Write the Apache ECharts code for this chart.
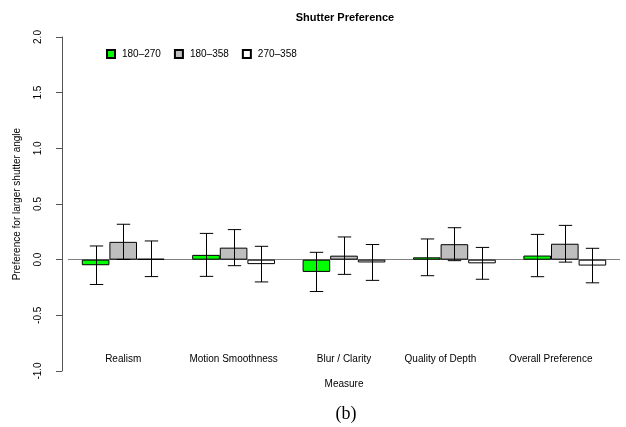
<!DOCTYPE html>
<html>
<head>
<meta charset="utf-8">
<script src="https://cdn.jsdelivr.net/npm/echarts@6/dist/echarts.min.js"></script>
<style>html,body{margin:0;padding:0;background:#fff;}#c{width:626px;height:427px;}</style>
</head>
<body>
<div id="c"></div>
<script>
const categories = ['Realism', 'Motion Smoothness', 'Blur / Clarity', 'Quality of Depth', 'Overall Preference'];
const seriesNames = ['180\u2013270', '180\u2013358', '270\u2013358'];
const v180_270 = [-0.05, 0.043, -0.11, 0.021, 0.037];
const v180_358 = [0.16, 0.108, 0.036, 0.139, 0.143];
const v270_358 = [0.008, -0.04, -0.025, -0.033, -0.053];
const e180_270 = [0.173, 0.193, 0.176, 0.165, 0.19];
const e180_358 = [0.158, 0.162, 0.168, 0.148, 0.165];
const e270_358 = [0.16, 0.16, 0.161, 0.143, 0.155];
const yTicks = [-1.0, -0.5, 0.0, 0.5, 1.0, 1.5, 2.0];

const values = [v180_270, v180_358, v270_358];
const errors = [e180_270, e180_358, e270_358];
const colors = ['#00FF00', '#BEBEBE', '#FFFFFF'];
const BAR_W = 27.6;
const CAP = 6.7;
const FONT = 'Liberation Sans, Arial, Helvetica, sans-serif';

const errData = [];
for (let k = 0; k < 3; k++) {
  for (let i = 0; i < categories.length; i++) {
    errData.push([i, values[k][i] - errors[k][i], values[k][i] + errors[k][i], k]);
  }
}

function renderErr(params, api) {
  const ci = api.value(0), lo = api.value(1), hi = api.value(2), k = api.value(3);
  const pLo = api.coord([ci, lo]);
  const pHi = api.coord([ci, hi]);
  const x = Math.round(pLo[0] + (k - 1) * BAR_W) + 0.5;
  const style = { stroke: '#000', lineWidth: 1 };
  return {
    type: 'group',
    children: [
      { type: 'line', shape: { x1: x, y1: pLo[1], x2: x, y2: pHi[1] }, style: style },
      { type: 'line', shape: { x1: x - CAP, y1: pLo[1], x2: x + CAP, y2: pLo[1] }, style: style },
      { type: 'line', shape: { x1: x - CAP, y1: pHi[1], x2: x + CAP, y2: pHi[1] }, style: style }
    ]
  };
}

const barSeries = seriesNames.map((name, k) => ({
  name: name,
  type: 'bar',
  data: values[k],
  barWidth: BAR_W,
  barGap: '0%',
  itemStyle: { color: colors[k], borderColor: '#000', borderWidth: 1 },
  emphasis: { disabled: true },
  z: 3,
  markLine: k === 0 ? {
    silent: true,
    symbol: 'none',
    label: { show: false },
    lineStyle: { color: '#7f7f7f', type: 'solid', width: 1 },
    data: [{ yAxis: 0 }],
    z: 1
  } : undefined
}));

const chart = echarts.init(document.getElementById('c'), null, { renderer: 'canvas' });
chart.setOption({
  animation: false,
  backgroundColor: '#fff',
  title: [
    { text: 'Shutter Preference', left: 340, top: 7, textAlign: 'center',
      textStyle: { fontFamily: FONT, fontSize: 11, fontWeight: 'bold', color: '#000' } },
    { text: '(b)', left: 341, top: 400, textAlign: 'center',
      textStyle: { fontFamily: 'Liberation Serif, Times New Roman, serif', fontSize: 18, fontWeight: 'normal', color: '#000' } }
  ],
  legend: {
    data: seriesNames,
    left: 101, top: 44,
    icon: 'rect',
    itemWidth: 8, itemHeight: 8,
    itemGap: 13,
    textStyle: { fontFamily: FONT, fontSize: 10, color: '#000', padding: [0, 0, 0, 2] }
  },
  grid: { left: 68, right: 6, top: 37, bottom: 56, containLabel: false },
  xAxis: {
    type: 'category',
    data: categories.map((c, i) => i >= 3 ? { value: c, textStyle: { padding: [0, 28, 0, 0] } } : c),
    axisLine: { show: false },
    axisTick: { show: false },
    axisLabel: { fontFamily: FONT, fontSize: 10, color: '#000', margin: -17, interval: 0 },
    name: 'Measure',
    nameLocation: 'middle',
    nameGap: 8,
    nameTextStyle: { fontFamily: FONT, fontSize: 10, color: '#000' }
  },
  yAxis: {
    type: 'value',
    min: yTicks[0], max: yTicks[yTicks.length - 1], interval: 0.5,
    offset: 6,
    axisLine: { show: true, lineStyle: { color: '#555', width: 1 } },
    axisTick: { show: true, length: 6, lineStyle: { color: '#555' } },
    splitLine: { show: false },
    axisLabel: { fontFamily: FONT, fontSize: 10, color: '#000', rotate: 90, margin: 19,
      formatter: v => v.toFixed(1) },
    name: 'Preference for larger shutter angle',
    nameLocation: 'middle',
    nameGap: 40,
    nameRotate: 90,
    nameTextStyle: { fontFamily: FONT, fontSize: 10, color: '#000' }
  },
  series: barSeries.concat([{
    type: 'custom',
    renderItem: renderErr,
    data: errData,
    encode: { x: 0, y: [1, 2] },
    z: 5,
    silent: true
  }])
});
</script>
</body>
</html>
